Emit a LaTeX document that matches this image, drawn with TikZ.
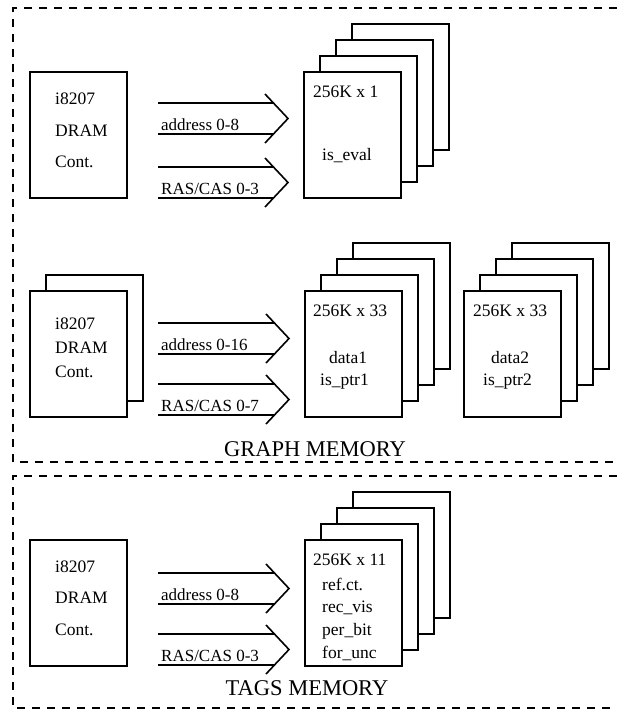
\documentclass[tikz,border=0pt]{standalone}
\usepackage{fontspec}
\setmainfont{Liberation Serif}
\usetikzlibrary{calc}
\newcommand{\memstack}[3]{%
  \foreach \k in {3,2,1} {\node[box] at ({#1+16*\k},{#2-16*\k}) {};}
  \node[box] (#3) at (#1,#2) {};}
\newcommand{\busarrow}[5]{%
  \coordinate (#5s) at ($(#1.north east)+(31,#3)$);
  \coordinate (#5e) at ($(#2.north west)+(-16,#3)$);
  \draw[bus] (#5s) -- ($(#5e)+(-15,0)$);
  \draw[bus] ($(#5s)+(0,31)$) -- ($(#5e)+(-15,31)$);
  \draw[bus,line join=miter] ($(#5e)+(-23,-9)$) -- ($(#5e)+(0,15.5)$) -- ($(#5e)+(-23,40)$);
  \node[lbl] (#5l) at ($(#5s)+(3,27)$) {#4};}
\begin{document}
\begin{tikzpicture}[x=1pt,y=-1pt,
  box/.style={draw,line width=1.8pt,fill=white,minimum width=97pt,minimum height=126pt,anchor=north west,inner sep=0pt,outer sep=0pt},
  txt/.style={anchor=base west,inner sep=0pt,font=\fontsize{17.5}{19}\selectfont},
  lbl/.style={anchor=base west,inner sep=0pt,font=\fontsize{17}{19}\selectfont},
  ttl/.style={anchor=base,inner sep=0pt,font=\fontsize{22.5}{24}\selectfont},
  bus/.style={line width=1.6pt},
  frame/.style={line width=1.3pt,dash pattern=on 8pt off 7pt}]
\useasboundingbox[fill=white] (0,0) rectangle (617,713);

% frames
\draw[frame] (617,8) -- (13,8) -- (13,462) -- (617,462);
\draw[frame] (617,476) -- (13,476) -- (13,708) -- (617,708);

% ---------- section 1
\node[box] (d1) at (30,72) {};
\node[txt] (d1a) at (55,104) {i8207};
\node[txt] (d1b) at (55,136) {DRAM};
\node[txt] (d1c) at (55,167) {Cont.};
\memstack{304}{72}{m1}
\node[txt] (m1a) at (313,97) {256K x 1};
\node[txt] (m1b) at (322,160) {is\_eval};
\busarrow{d1}{m1}{31}{address 0-8}{ba}
\busarrow{d1}{m1}{95}{RAS/CAS 0-3}{bb}

% ---------- section 2
\node[box] at (46,275) {};
\node[box] (d2) at (30,291) {};
\node[txt] (d2a) at (55,329) {i8207};
\node[txt] (d2b) at (55,353) {DRAM};
\node[txt] (d2c) at (55,377) {Cont.};
\memstack{305}{291}{m2}
\node[txt] (m2a) at (313,316) {256K x 33};
\node[txt] (m2b) at (329,363) {data1};
\node[txt] (m2c) at (320,385) {is\_ptr1};
\memstack{464}{291}{m3}
\node[txt] (m3a) at (473,316) {256K x 33};
\node[txt] (m3b) at (491,363) {data2};
\node[txt] (m3c) at (483,385) {is\_ptr2};
\busarrow{d2}{m2}{32}{address 0-16}{bc}
\busarrow{d2}{m2}{93}{RAS/CAS 0-7}{bd}
\node[ttl] (t1) at (315,456) {GRAPH MEMORY};

% ---------- section 3
\node[box] (d3) at (30,540) {};
\node[txt] (d3a) at (55,572) {i8207};
\node[txt] (d3b) at (55,603) {DRAM};
\node[txt] (d3c) at (55,635) {Cont.};
\memstack{305}{540}{m4}
\node[txt] (m4a) at (313,565) {256K x 11};
\node[txt] (m4b) at (322,590) {ref.ct.};
\node[txt] (m4c) at (322,612) {rec\_vis};
\node[txt] (m4d) at (322,635) {per\_bit};
\node[txt] (m4e) at (322,658) {for\_unc};
\busarrow{d3}{m4}{33}{address 0-8}{be}
\busarrow{d3}{m4}{94}{RAS/CAS 0-3}{bf}
\node[ttl] (t2) at (307,695) {TAGS MEMORY};
\end{tikzpicture}
\end{document}
